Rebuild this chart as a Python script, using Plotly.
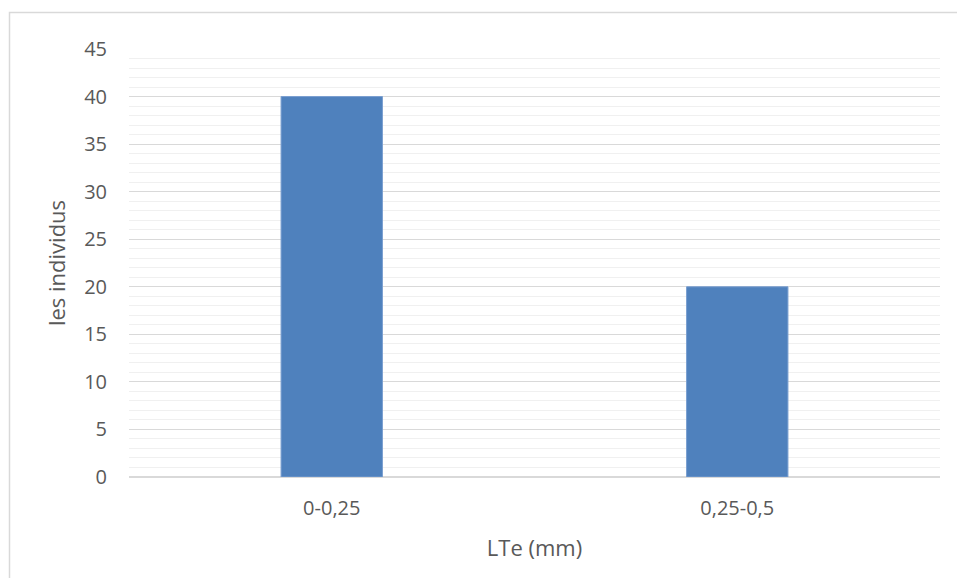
import plotly.graph_objects as go

categories = ["0-0,25", "0,25-0,5"]
values = [40, 20]
y_ticks = [0, 5, 10, 15, 20, 25, 30, 35, 40, 45]

W, H = 957, 578
ml, mr, mt, mb = 129, 17, 49, 101
pw, ph = W - ml - mr, H - mt - mb

def px_to_paper_x(x):
    return (x - ml) / pw

def px_to_paper_y(y):
    return (H - mb - y) / ph

fig = go.Figure()
fig.add_trace(go.Bar(
    x=categories, y=values,
    width=0.25,
    marker=dict(color="#4f81bd", line=dict(color="#7a9fd0", width=1)),
))

font_family = "Open Sans, Liberation Sans, sans-serif"
fig.update_layout(
    width=W, height=H,
    margin=dict(l=ml, r=mr, t=mt, b=mb),
    paper_bgcolor="white", plot_bgcolor="white",
    showlegend=False,
    font=dict(family=font_family, color="#595959", size=20),
    xaxis=dict(
        showgrid=False, showline=False, zeroline=False,
        ticks="", ticklabelstandoff=17,
        tickfont=dict(size=20, color="#595959"),
        title=dict(text="LTe (mm)", font=dict(size=22, color="#595959"), standoff=20),
    ),
    yaxis=dict(
        range=[0, 45], tickvals=y_ticks,
        showgrid=True, gridcolor="#d9d9d9", gridwidth=1.3,
        zeroline=True, zerolinecolor="#d9d9d9", zerolinewidth=1.5,
        showline=False, ticks="",
        ticklabelstandoff=21,
        tickfont=dict(size=20, color="#595959"),
        minor=dict(dtick=1, showgrid=True, gridcolor="#f0f0f0", gridwidth=1.3),
        title=dict(text="les individus", font=dict(size=22, color="#595959"), standoff=12),
    ),
    shapes=[dict(
        type="rect", xref="paper", yref="paper",
        x0=px_to_paper_x(9.5), x1=px_to_paper_x(990),
        y0=px_to_paper_y(620), y1=px_to_paper_y(12.5),
        line=dict(color="#d9d9d9", width=1.5), fillcolor="rgba(0,0,0,0)",
        layer="below",
    )],
)

fig.write_html(
    "out.html",
    config={"displayModeBar": False},
    post_script="document.body.style.margin='0';document.body.style.overflow='hidden';",
)
